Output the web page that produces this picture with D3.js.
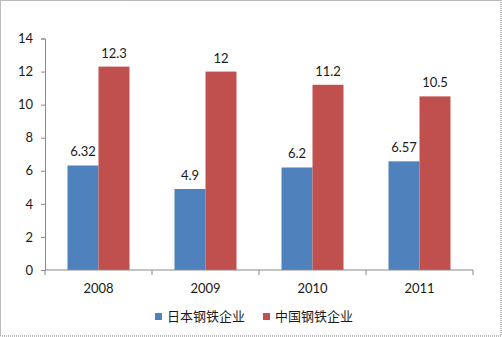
<!DOCTYPE html>
<html>
<head>
<meta charset="utf-8">
<script src="https://cdn.jsdelivr.net/npm/d3@7"></script>
<style>
  html, body { margin: 0; padding: 0; background: #fff; }
  svg { display: block; }
</style>
</head>
<body>
<svg id="chart" width="502" height="337"></svg>
<script>
// Data
const years = ["2008", "2009", "2010", "2011"];
const seriesNames = ["日本钢铁企业", "中国钢铁企业"];
const japanValues = [6.32, 4.9, 6.2, 6.57];
const chinaValues = [12.3, 12, 11.2, 10.5];
const yTicks = [0, 2, 4, 6, 8, 10, 12, 14];
const colors = ["#4F81BD", "#C0504D"];

(function () {
  const svg = d3.select("#chart");
  const W = 502, H = 337;
  const plotLeft = 45, plotRight = 473, plotTop = 38.5, plotBottom = 270;

  // Outer dotted frame
  svg.append("rect")
    .attr("x", 0.5).attr("y", 0.5)
    .attr("width", W - 1.5).attr("height", H - 1.5)
    .attr("fill", "none")
    .attr("stroke", "#777")
    .attr("stroke-dasharray", "1,1");

  const x0 = d3.scaleBand().domain(years).range([plotLeft, plotRight]);
  const x1 = d3.scaleBand().domain([0, 1]).range([22.5, x0.bandwidth() - 22.5]);
  const y = d3.scaleLinear().domain([0, 14]).range([plotBottom, plotTop]);

  const font = "Lato, 'Open Sans', sans-serif";
  const textColor = "#1a1a1a";

  // Y axis
  const yAxis = svg.append("g")
    .attr("transform", `translate(${plotLeft},0)`)
    .call(d3.axisLeft(y).tickValues(yTicks).tickSize(4).tickPadding(8).tickFormat(d3.format("d")));
  yAxis.select(".domain").attr("stroke", "#8a8a8a");
  yAxis.selectAll(".tick line").attr("stroke", "#8a8a8a");
  yAxis.selectAll("text").attr("font-family", font).attr("font-size", 13).attr("fill", textColor);

  // Bars
  const data = years.map((yr, i) => ({ year: yr, values: [japanValues[i], chinaValues[i]] }));
  const groups = svg.append("g").selectAll("g").data(data).join("g")
    .attr("transform", d => `translate(${x0(d.year)},0)`);

  groups.selectAll("rect").data(d => d.values.map((v, k) => ({ v, k }))).join("rect")
    .attr("x", d => x1(d.k))
    .attr("y", d => y(d.v))
    .attr("width", x1.bandwidth())
    .attr("height", d => y(0) - y(d.v))
    .attr("fill", d => colors[d.k]);

  // Value labels
  groups.selectAll("text.val").data(d => d.values.map((v, k) => ({ v, k }))).join("text")
    .attr("class", "val")
    .attr("x", d => x1(d.k) + x1.bandwidth() / 2)
    .attr("y", d => y(d.v) - 9)
    .attr("text-anchor", "middle")
    .attr("font-family", font)
    .attr("font-size", 13)
    .attr("fill", textColor)
    .text(d => String(d.v));

  // X axis
  const xAxis = svg.append("g")
    .attr("transform", `translate(0,${plotBottom})`);
  xAxis.append("line")
    .attr("x1", plotLeft).attr("x2", plotRight)
    .attr("stroke", "#8a8a8a");
  const boundaries = years.map(yr => x0(yr)).concat([plotRight]);
  xAxis.selectAll("line.tk").data(boundaries).join("line")
    .attr("class", "tk")
    .attr("x1", d => d).attr("x2", d => d)
    .attr("y1", 0).attr("y2", 5)
    .attr("stroke", "#8a8a8a");
  xAxis.selectAll("text").data(years).join("text")
    .attr("x", d => x0(d) + x0.bandwidth() / 2)
    .attr("y", 23)
    .attr("text-anchor", "middle")
    .attr("font-family", font)
    .attr("font-size", 13)
    .attr("fill", textColor)
    .text(d => d);

  // Legend
  const legendPos = [155, 263];
  const legend = svg.append("g").selectAll("g").data(seriesNames).join("g")
    .attr("transform", (d, i) => `translate(${legendPos[i]},313)`);
  legend.append("rect")
    .attr("width", 7).attr("height", 7)
    .attr("fill", (d, i) => colors[i]);
  legend.append("text")
    .attr("x", 12).attr("y", 8)
    .attr("font-family", "'Noto Sans CJK SC', sans-serif")
    .attr("font-size", 13)
    .attr("fill", textColor)
    .text(d => d);
})();
</script>
</body>
</html>
